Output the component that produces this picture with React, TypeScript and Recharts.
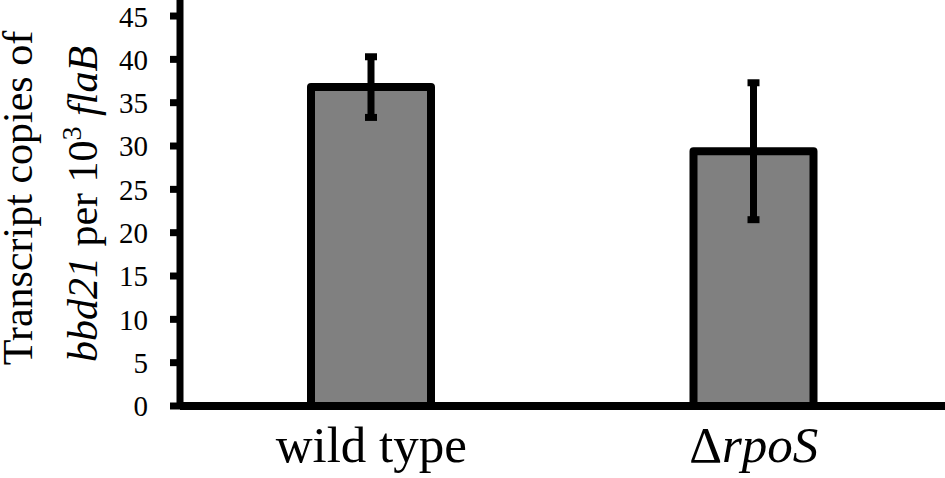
import React from 'react';
import { BarChart, Bar, XAxis, YAxis, ErrorBar, Label } from 'recharts';

const strains = ['wild type', 'ΔrpoS'];
const copies = [36.8, 29.4];
const copiesErr = [3.5, 7.9];
const yTicks = [0, 5, 10, 15, 20, 25, 30, 35, 40, 45];

const data = strains.map((name, i) => ({ name, value: copies[i], err: copiesErr[i] }));

const SERIF = '"Liberation Serif", "Times New Roman", serif';

const StrainTick = (props: any) => {
  const { x, y, payload } = props;
  const label: string = payload.value;
  const isDelta = label.startsWith('Δ');
  return (
    <text x={x} y={y + 56} textAnchor="middle" fontFamily={SERIF} fontSize={51} fill="#000">
      {isDelta ? (
        <>
          <tspan>Δ</tspan>
          <tspan fontStyle="italic">{label.slice(1)}</tspan>
        </>
      ) : (
        label
      )}
    </text>
  );
};

const YTitle = (props: any) => {
  const { viewBox } = props;
  const cy = viewBox.y + viewBox.height / 2;
  const l1x = 32;
  const l2x = 97;
  return (
    <g fontFamily={SERIF} fontSize={42} fill="#000">
      <text x={l1x} y={cy - 5} transform={`rotate(-90 ${l1x} ${cy - 5})`} textAnchor="middle">
        Transcript copies of
      </text>
      <text x={l2x} y={cy + 1} transform={`rotate(-90 ${l2x} ${cy + 1})`} textAnchor="middle">
        <tspan fontStyle="italic">bbd21</tspan>
        <tspan> per 10</tspan>
        <tspan fontSize={28} dy={-16}>3</tspan>
        <tspan dy={16}> </tspan>
        <tspan fontStyle="italic">flaB</tspan>
      </text>
    </g>
  );
};

export default function App() {
  return (
    <div style={{ width: 945, height: 478, background: '#fff' }}>
      <style>{`body{margin:0}`}</style>
      <BarChart width={945} height={478} data={data} margin={{ top: 0, right: 0, bottom: 0, left: 0 }}>
        <XAxis
          dataKey="name"
          axisLine={{ stroke: '#000', strokeWidth: 8 }}
          tickLine={false}
          tickSize={0}
          tickMargin={0}
          height={72}
          tick={<StrainTick />}
          interval={0}
        />
        <YAxis
          domain={[0, 46.85]}
          ticks={yTicks}
          width={180}
          axisLine={{ stroke: '#000', strokeWidth: 7 }}
          tickLine={{ stroke: '#000', strokeWidth: 7 }}
          tickSize={10}
          tickMargin={22}
          tick={{ fill: '#000', fontSize: 29, fontFamily: SERIF }}
        >
          <Label content={<YTitle />} />
        </YAxis>
        <Bar
          dataKey="value"
          fill="#808080"
          stroke="#000"
          strokeWidth={8}
          strokeLinejoin="round"
          barSize={120}
          isAnimationActive={false}
        >
          <ErrorBar dataKey="err" width={6} strokeWidth={7} stroke="#000" isAnimationActive={false} />
        </Bar>
      </BarChart>
    </div>
  );
}
